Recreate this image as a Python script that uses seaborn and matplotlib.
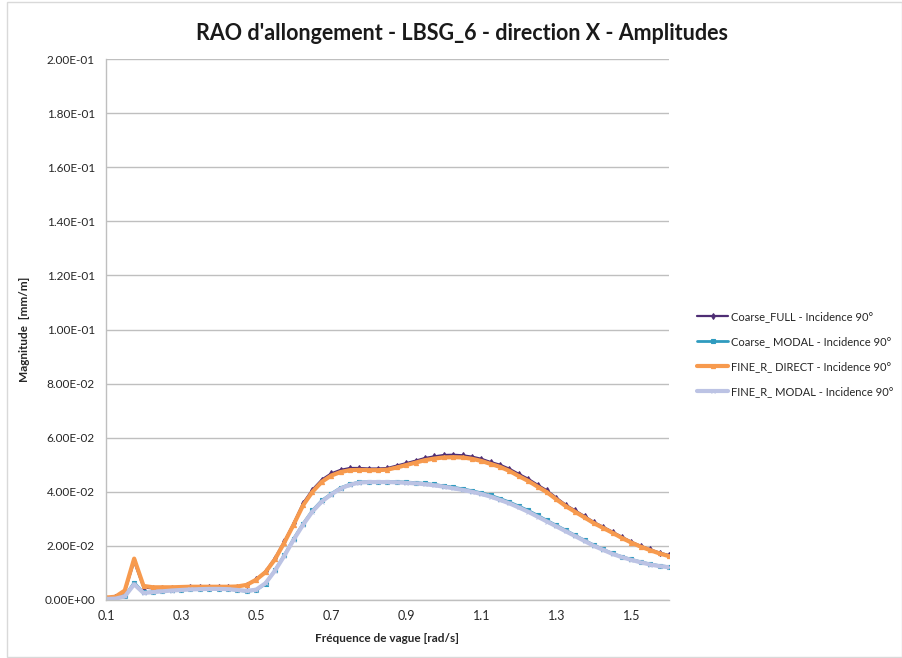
import matplotlib
matplotlib.use("Agg")
import matplotlib.pyplot as plt
import matplotlib.ticker as mticker
from matplotlib.patches import Rectangle
import seaborn as sns
import pandas as pd

# wave frequencies [rad/s], step 0.025
freq = [round(0.1 + 0.025 * i, 3) for i in range(61)]

coarse_full = [
    0.0008, 0.0010, 0.0030, 0.0142, 0.0046, 0.0043, 0.0044, 0.0045, 0.0046, 0.0047,
    0.0048, 0.0048, 0.0048, 0.0048, 0.0049, 0.0057, 0.0076, 0.0106, 0.0155, 0.0217,
    0.0284, 0.0358, 0.0408, 0.0445, 0.0468, 0.0481, 0.0488, 0.0488, 0.0486, 0.0486,
    0.0488, 0.0497, 0.0506, 0.0515, 0.0525, 0.0531, 0.0536, 0.0537, 0.0535, 0.0530,
    0.0522, 0.0510, 0.0500, 0.0485, 0.0466, 0.0448, 0.0426, 0.0405, 0.0378, 0.0352,
    0.0331, 0.0310, 0.0288, 0.0270, 0.0252, 0.0233, 0.0215, 0.0200, 0.0187, 0.0175,
    0.0166,
]
coarse_modal = [
    0.0005, 0.0006, 0.0015, 0.0064, 0.0028, 0.0030, 0.0033, 0.0036, 0.0038, 0.0040,
    0.0041, 0.0042, 0.0042, 0.0040, 0.0036, 0.0032, 0.0036, 0.0060, 0.0110, 0.0166,
    0.0227, 0.0282, 0.0331, 0.0368, 0.0393, 0.0415, 0.0428, 0.0436, 0.0438, 0.0438,
    0.0438, 0.0437, 0.0436, 0.0434, 0.0431, 0.0427, 0.0422, 0.0417, 0.0411, 0.0404,
    0.0396, 0.0387, 0.0375, 0.0362, 0.0347, 0.0331, 0.0313, 0.0294, 0.0276, 0.0258,
    0.0239, 0.0221, 0.0203, 0.0187, 0.0172, 0.0160, 0.0150, 0.0141, 0.0133, 0.0127,
    0.0123,
]
fine_direct = [
    0.0009, 0.0012, 0.0035, 0.0153, 0.0052, 0.0047, 0.0047, 0.0047, 0.0048, 0.0049,
    0.0049, 0.0049, 0.0049, 0.0049, 0.0050, 0.0056, 0.0075, 0.0103, 0.0150, 0.0212,
    0.0279, 0.0350, 0.0400, 0.0437, 0.0460, 0.0473, 0.0480, 0.0481, 0.0480, 0.0480,
    0.0482, 0.0490, 0.0499, 0.0508, 0.0517, 0.0523, 0.0527, 0.0528, 0.0527, 0.0522,
    0.0514, 0.0503, 0.0492, 0.0477, 0.0458, 0.0440, 0.0419, 0.0398, 0.0372, 0.0347,
    0.0326, 0.0305, 0.0284, 0.0266, 0.0248, 0.0229, 0.0212, 0.0197, 0.0184, 0.0172,
    0.0162,
]
fine_modal = [
    0.0004, 0.0005, 0.0013, 0.0058, 0.0026, 0.0029, 0.0032, 0.0035, 0.0037, 0.0039,
    0.0040, 0.0041, 0.0041, 0.0040, 0.0037, 0.0034, 0.0038, 0.0062, 0.0108, 0.0163,
    0.0223, 0.0278, 0.0327, 0.0364, 0.0390, 0.0412, 0.0426, 0.0434, 0.0436, 0.0436,
    0.0436, 0.0435, 0.0433, 0.0431, 0.0428, 0.0424, 0.0419, 0.0413, 0.0407, 0.0400,
    0.0392, 0.0382, 0.0370, 0.0357, 0.0342, 0.0326, 0.0308, 0.0290, 0.0272, 0.0254,
    0.0236, 0.0218, 0.0200, 0.0185, 0.0170, 0.0158, 0.0148, 0.0139, 0.0131, 0.0125,
    0.0121,
]

labels = [
    "Coarse_FULL - Incidence 90°",
    "Coarse_ MODAL - Incidence 90°",
    "FINE_R_ DIRECT - Incidence 90°",
    "FINE_R_ MODAL - Incidence 90°",
]
series = [coarse_full, coarse_modal, fine_direct, fine_modal]

sns.set_style("white")
plt.rcParams["font.family"] = ["Lato", "DejaVu Sans"]

# line styles per series: colour, width, marker, marker size
styles = [
    ("#4E2D74", 1.6, "d", 3.0),
    ("#2F9BBF", 2.0, "s", 2.8),
    ("#F79A4E", 3.0, "^", 3.0),
    ("#BCC3E4", 3.0, "x", 2.5),
]

fig = plt.figure(figsize=(9.03, 6.58), dpi=100)
ax = fig.add_axes([106 / 903, 1 - 600 / 658, (669 - 106) / 903, (600 - 59) / 658])

for vals, lab, (col, lw, mk, ms) in zip(series, labels, styles):
    df = pd.DataFrame({"freq": freq, "mag": vals})
    sns.lineplot(data=df, x="freq", y="mag", ax=ax, color=col, linewidth=lw,
                 marker=mk, markersize=ms, markeredgewidth=0.8, markeredgecolor=col,
                 label=lab)

ax.set_xlim(0.1, 1.6)
ax.set_ylim(0, 0.2)
ax.xaxis.set_major_locator(mticker.FixedLocator([0.1, 0.3, 0.5, 0.7, 0.9, 1.1, 1.3, 1.5]))
ax.xaxis.set_major_formatter(mticker.FormatStrFormatter("%.1f"))
ax.yaxis.set_major_locator(mticker.MultipleLocator(0.02))
ax.yaxis.set_major_formatter(mticker.FormatStrFormatter("%.2E"))
ax.tick_params(axis="y", labelsize=8.5, colors="#262626", length=0, pad=8)
ax.tick_params(axis="x", labelsize=9, colors="#262626", length=0, pad=7)
ax.grid(axis="y", color="#BFBFBF", linewidth=1)
ax.grid(axis="x", visible=False)
for side in ["top", "right"]:
    ax.spines[side].set_visible(False)
for side in ["left", "bottom"]:
    ax.spines[side].set_color("#BFBFBF")
    ax.spines[side].set_linewidth(1)

ax.set_xlabel("Fréquence de vague [rad/s]", fontsize=8.5, fontweight="bold", labelpad=8)
ax.set_ylabel("Magnitude  [mm/m]", fontsize=8.5, fontweight="bold", labelpad=10)

fig.text(462 / 903, 1 - 33 / 658, "RAO d'allongement - LBSG_6 - direction X - Amplitudes",
         ha="center", va="center", fontsize=15.5, fontweight="bold", color="#1a1a1a")

ax.legend(loc="center left", bbox_to_anchor=((697 - 106) / (669 - 106), (600 - 354) / (600 - 59)),
          frameon=False, fontsize=8, handlelength=2.8, handletextpad=0.3,
          labelspacing=1.25, borderaxespad=0, borderpad=0)

fig.add_artist(Rectangle((7 / 903, 0.002), 1 - 8 / 903, 0.995, transform=fig.transFigure,
                         fill=False, edgecolor="#D9D9D9", linewidth=1))

fig.savefig("out.png", dpi=100)
